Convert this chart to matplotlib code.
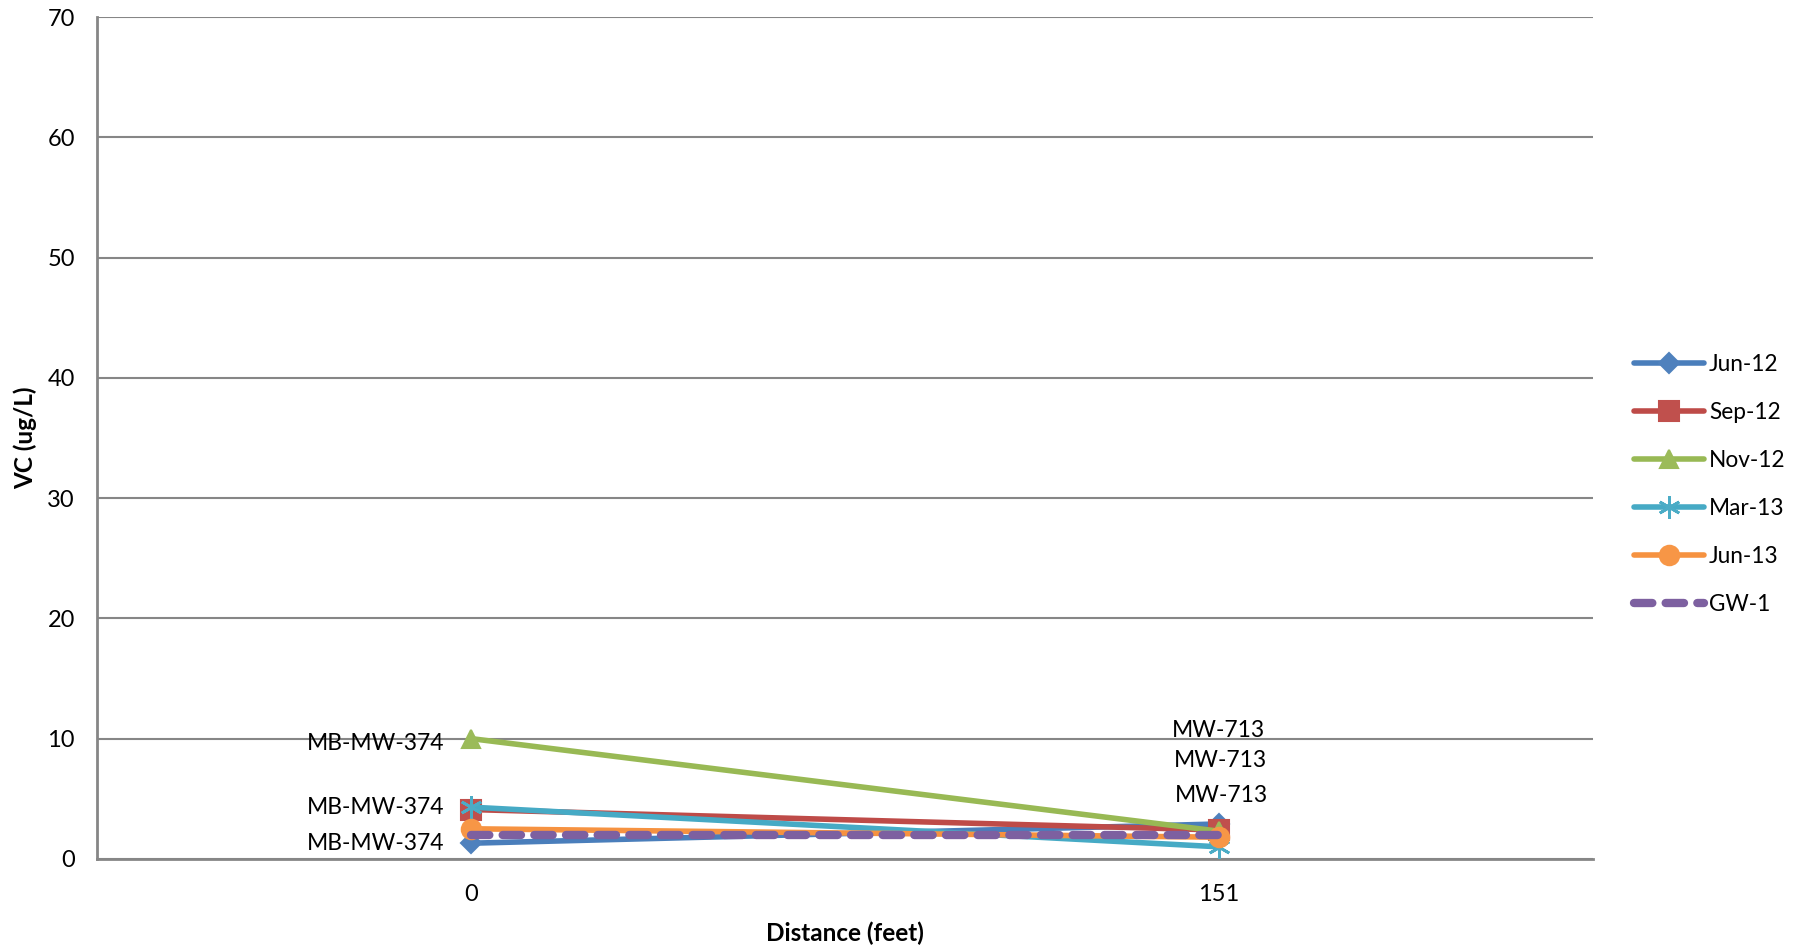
import numpy as np
import matplotlib.pyplot as plt

plt.rcParams['font.family'] = ['Lato', 'DejaVu Sans']

# distance categories along the transect
distances = ['0', '151']
wells = ['MB-MW-374', 'MW-713']

# VC concentrations (ug/L) per sampling event
jun12 = [1.3, 2.9]
sep12 = [4.1, 2.4]
nov12 = [10.0, 2.3]
mar13 = [4.3, 1.0]
jun13 = [2.5, 1.8]
gw1 = [2.0, 2.0]

series = [
    ('Jun-12', jun12, '#4A7EBB', '#4F81BD', 'D', 10),
    ('Sep-12', sep12, '#BE4B48', '#C0504D', 's', 14),
    ('Nov-12', nov12, '#98B954', '#9BBB59', '^', 13),
    ('Mar-13', mar13, '#46AAC5', '#4BACC6', (6, 2, 0), 16),
    ('Jun-13', jun13, '#F69240', '#F79646', 'o', 14),
]

fig = plt.figure(figsize=(18.10, 9.49), dpi=100)
ax = fig.add_axes([0.0536, 0.095, 0.8264, 0.887])

x = np.arange(len(distances))
for name, vals, lc, mc, mk, ms in series:
    ax.plot(x, vals, color=lc, lw=4, marker=mk, ms=ms, mfc=mc, mec=mc,
            mew=1.5 if mk != (6, 2, 0) else 2, label=name,
            solid_capstyle='round', zorder=3)
ax.plot(x, gw1, color='#7D60A0', lw=6, ls=(0, (2.2, 1.6)),
        dash_capstyle='round', label='GW-1', zorder=4)

# well name labels next to the points
data = {'Jun-12': jun12, 'Sep-12': sep12, 'Nov-12': nov12}
left_dy = {'Nov-12': -5, 'Sep-12': 2, 'Jun-12': 0}
right_dx = {'Nov-12': 0, 'Sep-12': 2, 'Jun-12': 3}
right_dy = {'Nov-12': 101, 'Sep-12': 69, 'Jun-12': 28}
for name, vals in data.items():
    ax.annotate(wells[0], (x[0], vals[0]), xytext=(-27, left_dy[name]),
                textcoords='offset pixels', ha='right', va='center',
                fontsize=16.5, color='black')
    ax.annotate(wells[1], (x[1], vals[1]), xytext=(right_dx[name], right_dy[name]),
                textcoords='offset pixels', ha='center', va='center',
                fontsize=16.5, color='black')

ax.set_xlim(-0.5, 1.5)
ax.set_ylim(0, 70)
ax.set_yticks(np.arange(0, 71, 10))
ax.set_xticks(x)
ax.set_xticklabels(distances)
ax.yaxis.grid(True, color='#868686', lw=1.5)
ax.set_axisbelow(True)
for s in ['top', 'right']:
    ax.spines[s].set_visible(False)
for s in ['left', 'bottom']:
    ax.spines[s].set_color('#868686')
    ax.spines[s].set_linewidth(2)
ax.tick_params(length=0, labelsize=17, pad=16)
ax.tick_params(axis='x', pad=18)
ax.set_ylabel('VC (ug/L)', fontsize=17.5, fontweight='bold')
ax.yaxis.set_label_coords(-0.040, 0.5)
ax.set_xlabel('Distance (feet)', fontsize=17.5, fontweight='bold', labelpad=12)

ax.legend(loc='center left', bbox_to_anchor=(1.0140, 0.445), frameon=False,
          fontsize=16.3, handlelength=3.1, labelspacing=1.19, handletextpad=0.2,
          numpoints=1)

fig.savefig('out.png', dpi=100)
